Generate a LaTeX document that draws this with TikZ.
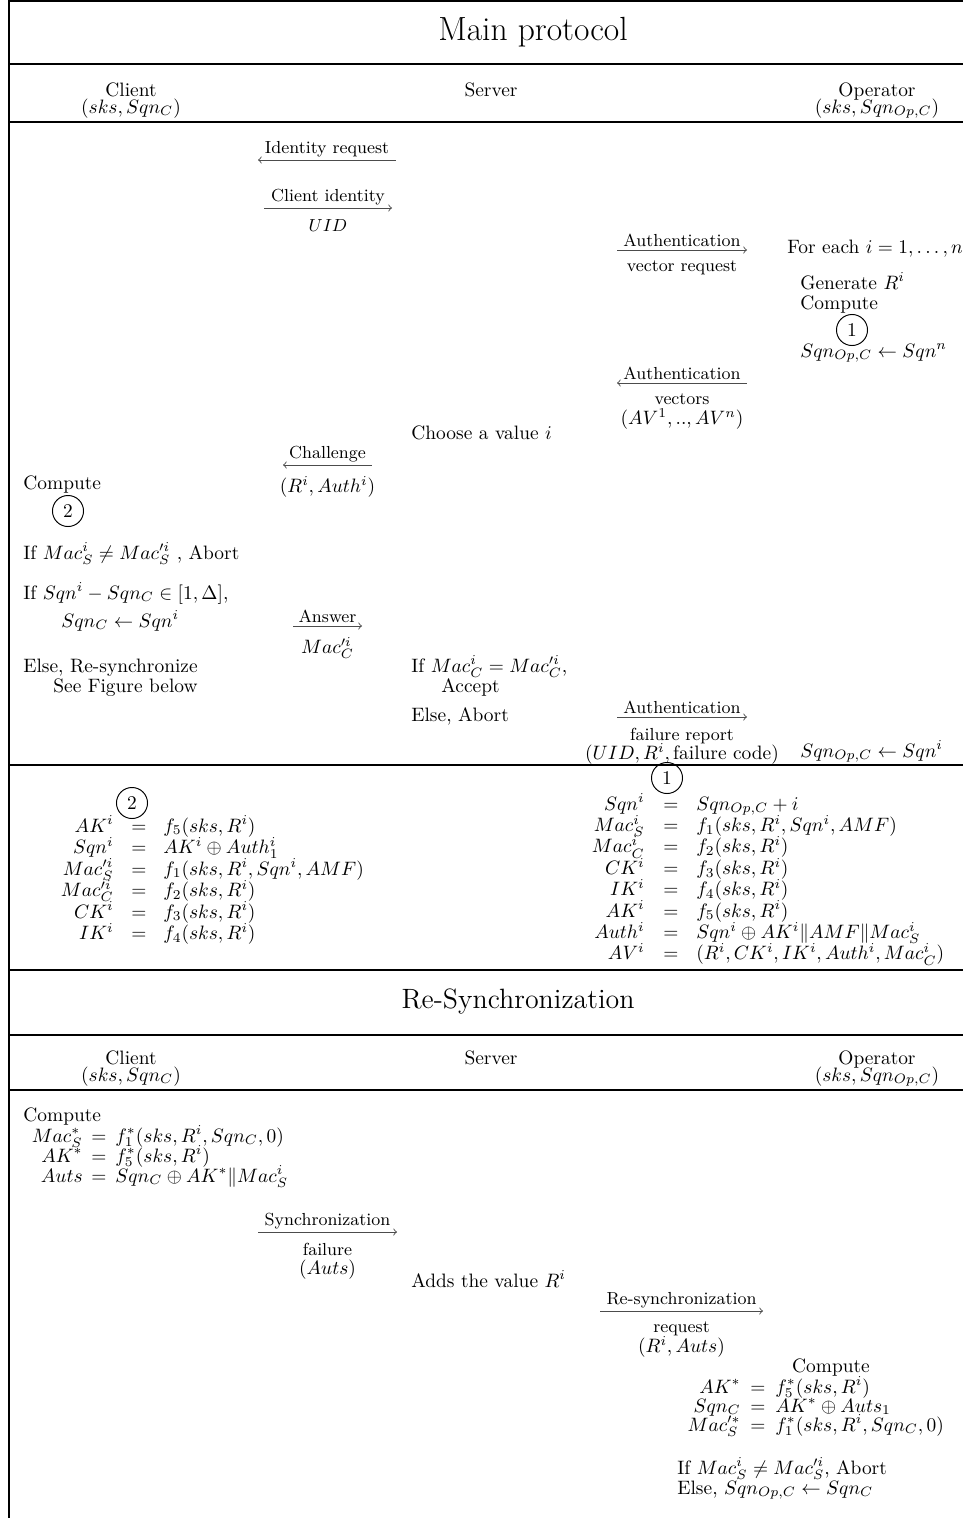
\documentclass[tikz,border=0pt]{standalone}
\usepackage{amsmath,amssymb}
\begin{document}
\begin{tikzpicture}[
    x=0.5155pt, y=-0.5155pt,
    txt/.style={anchor=base west, inner sep=0pt},
    ctxt/.style={anchor=base, inner sep=0pt},
    rtxt/.style={anchor=base east, inner sep=0pt},
    head/.style={anchor=center, inner sep=0pt, font=\LARGE},
    msg/.style={->, line width=0.45pt, black!70},
    up/.style={above, font=\small, inner sep=1.5pt, text=black},
    down/.style={below, font=\small, inner sep=1.5pt, yshift=-4pt,
                 align=center, text=black},
    num/.style={circle, draw, line width=0.5pt, inner sep=0pt,
                minimum size=16pt},
    rule/.style={line width=0.6pt}
]
    \useasboundingbox (0,0) rectangle (963,1518);

    % Rahmen und Trennlinien
    \draw[rule] (9,0) -- (9,1518);
    \foreach \y in {1,64,122,765,970,1035,1090}
        \draw[rule] (9,\y) -- (963,\y);

    % Kopf: Hauptprotokoll
    \node[head] (mainttl) at (533,32) {Main protocol};
    \node[ctxt] (cli) at (131,96) {Client};
    \node[ctxt] (clikey) at (131,113) {$(sks, Sqn_C)$};
    \node[ctxt] (srv) at (491,96) {Server};
    \node[ctxt] (op) at (877,96) {Operator};
    \node[ctxt] (opkey) at (877,113) {$(sks, Sqn_{Op,C})$};

    % Identitaet
    \coordinate (idreqL) at (258,160);
    \coordinate (idreqR) at (396,160);
    \draw[msg, <-] (idreqL) -- node[up] {Identity request} (idreqR);
    \coordinate (cidL) at (264,208);
    \coordinate (cidR) at (392,208);
    \draw[msg] (cidL) -- node[up] {Client identity}
        node[down] {$UID$} (cidR);

    % Authentifizierungsvektoren
    \coordinate (avreqL) at (617,250);
    \coordinate (avreqR) at (747,250);
    \draw[msg] (avreqL) -- node[up] {Authentication}
        node[down] {vector request} (avreqR);
    \node[txt] (foreach) at (787,253) {For each $i = 1, \ldots, n$};
    \node[txt] (genr) at (800,289) {Generate $R^i$};
    \node[txt] (opcomp) at (800,309) {Compute};
    \node[num] (opone) at (852,330) {1};
    \node[txt] (opupd) at (800,357) {$Sqn_{Op,C} \leftarrow Sqn^n$};
    \coordinate (avL) at (617,383);
    \coordinate (avR) at (747,383);
    \draw[msg, <-] (avL) -- node[up] {Authentication}
        node[down] {vectors\\[-1pt]{\normalsize $(AV^1, .., AV^n)$}} (avR);

    % Challenge
    \node[txt] (choose) at (411,439) {Choose a value $i$};
    \coordinate (chalL) at (283,465);
    \coordinate (chalR) at (372,465);
    \draw[msg, <-] (chalL) -- node[up] {Challenge}
        node[down] {\normalsize $(R^i, Auth^i)$} (chalR);
    \node[txt] (clcomp) at (23,489) {Compute};
    \node[num] (cltwo) at (68,511) {2};
    \node[txt] (clmac) at (23,559)
        {If $Mac^i_S \neq Mac^{\prime i}_S$ , Abort};
    \node[txt] (clsqn) at (23,599) {If $Sqn^i - Sqn_C \in [1, \Delta]$,};
    \node[txt] (clupd) at (61,627) {$Sqn_C \leftarrow Sqn^i$};
    \node[txt] (clelse) at (23,672) {Else, Re-synchronize};
    \node[txt] (clsee) at (53,692) {See Figure below};

    % Antwort
    \coordinate (ansL) at (293,626);
    \coordinate (ansR) at (362,626);
    \draw[msg] (ansL) -- node[up] {Answer}
        node[down] {\normalsize $Mac^{\prime i}_C$} (ansR);
    \node[txt] (svmac) at (411,672) {If $Mac^i_C = Mac^{\prime i}_C$,};
    \node[txt] (svacc) at (441,692) {Accept};
    \node[txt] (svelse) at (411,721) {Else, Abort};
    \coordinate (failL) at (617,717);
    \coordinate (failR) at (747,717);
    \draw[msg] (failL) -- node[up] {Authentication}
        node[down] {failure report\\[-1pt]{\normalsize
        $(UID, R^i, \text{failure code})$}} (failR);
    \node[txt] (opfail) at (800,757) {$Sqn_{Op,C} \leftarrow Sqn^i$};

    % Berechnungen (2) und (1)
    \node[num] (deftwo) at (132,803) {2};
    \foreach \lhs/\rhs [count=\k from 0] in {
        {AK^i}/{f_5(sks, R^i)},
        {Sqn^i}/{AK^i \oplus Auth^i_1},
        {Mac^{\prime i}_S}/{f_1(sks, R^i, Sqn^i, AMF)},
        {Mac^{\prime i}_C}/{f_2(sks, R^i)},
        {CK^i}/{f_3(sks, R^i)},
        {IK^i}/{f_4(sks, R^i)}}
    {
        \node[rtxt] (tl\k) at (114,832+21.5*\k) {$\lhs$};
        \node[ctxt] (te\k) at (139,832+21.5*\k) {$=$};
        \node[txt] (tr\k) at (163,832+21.5*\k) {$\rhs$};
    }
    \node[num] (defone) at (667,778) {1};
    \foreach \lhs/\rhs [count=\k from 0] in {
        {Sqn^i}/{Sqn_{Op,C} + i},
        {Mac^i_S}/{f_1(sks, R^i, Sqn^i, AMF)},
        {Mac^i_C}/{f_2(sks, R^i)},
        {CK^i}/{f_3(sks, R^i)},
        {IK^i}/{f_4(sks, R^i)},
        {AK^i}/{f_5(sks, R^i)},
        {Auth^i}/{Sqn^i \oplus AK^i \| AMF \| Mac^i_S},
        {AV^i}/{(R^i, CK^i, IK^i, Auth^i, Mac^i_C)}}
    {
        \node[rtxt] (ol\k) at (645,810+21.4*\k) {$\lhs$};
        \node[ctxt] (oe\k) at (671,810+21.4*\k) {$=$};
        \node[txt] (or\k) at (696,810+21.4*\k) {$\rhs$};
    }

    % Kopf: Re-Synchronisation
    \node[head, font=\Large] (syncttl) at (518,1002) {Re-Synchronization};
    \node[ctxt] (rcli) at (131,1064) {Client};
    \node[ctxt] (rclikey) at (131,1081) {$(sks, Sqn_C)$};
    \node[ctxt] (rsrv) at (491,1064) {Server};
    \node[ctxt] (rop) at (877,1064) {Operator};
    \node[ctxt] (ropkey) at (877,1081) {$(sks, Sqn_{Op,C})$};

    % Client berechnet Auts
    \node[txt] (rclcomp) at (23,1121) {Compute};
    \foreach \lhs/\rhs [count=\k from 0] in {
        {Mac^*_S}/{f^*_1(sks, R^i, Sqn_C, 0)},
        {AK^*}/{f^*_5(sks, R^i)},
        {Auts}/{Sqn_C \oplus AK^* \| Mac^i_S}}
    {
        \node[rtxt] (cl\k) at (83,1142+20*\k) {$\lhs$};
        \node[ctxt] (ce\k) at (99,1142+20*\k) {$=$};
        \node[txt] (cr\k) at (115,1142+20*\k) {$\rhs$};
    }
    \coordinate (syncL) at (258,1232);
    \coordinate (syncR) at (397,1232);
    \draw[msg] (syncL) -- node[up] {Synchronization}
        node[down] {failure\\[-1pt]{\normalsize $(Auts)$}} (syncR);
    \node[txt] (adds) at (411,1287) {Adds the value $R^i$};
    \coordinate (resL) at (600,1311);
    \coordinate (resR) at (763,1311);
    \draw[msg] (resL) -- node[up] {Re-synchronization}
        node[down] {request\\[-1pt]{\normalsize $(R^i, Auts)$}} (resR);

    % Operator prueft Auts
    \node[ctxt] (ropcomp) at (831,1372) {Compute};
    \foreach \lhs/\rhs [count=\k from 0] in {
        {AK^*}/{f^*_5(sks, R^i)},
        {Sqn_C}/{AK^* \oplus Auts_1},
        {Mac^{\prime *}_S}/{f^*_1(sks, R^i, Sqn_C, 0)}}
    {
        \node[rtxt] (pl\k) at (741,1393+19*\k) {$\lhs$};
        \node[ctxt] (pe\k) at (758,1393+19*\k) {$=$};
        \node[txt] (pr\k) at (775,1393+19*\k) {$\rhs$};
    }
    \node[txt] (ropmac) at (677,1474)
        {If $Mac^i_S \neq Mac^{\prime i}_S$, Abort};
    \node[txt] (ropelse) at (677,1494) {Else, $Sqn_{Op,C} \leftarrow Sqn_C$};

\end{tikzpicture}
\end{document}
